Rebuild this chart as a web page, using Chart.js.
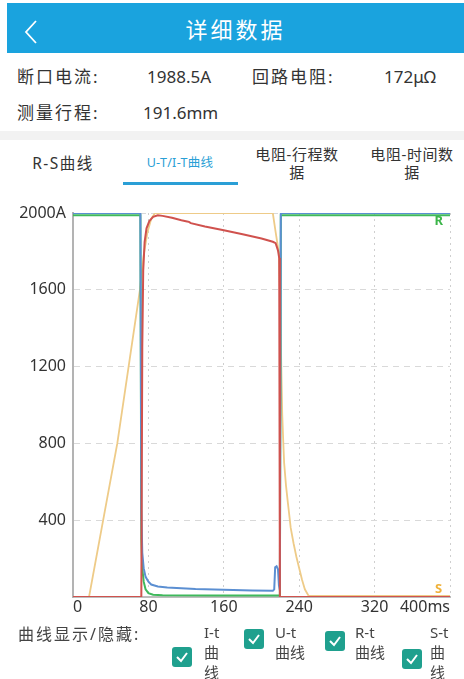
<!DOCTYPE html>
<html>
<head>
<meta charset="utf-8">
<script src="https://cdn.jsdelivr.net/npm/chart.js@4.4.1/dist/chart.umd.min.js"></script>
<style>
  html, body { margin: 0; padding: 0; background: #fff; }
  body { width: 464px; height: 679px; overflow: hidden; position: relative;
         font-family: "Noto Sans", "Noto Sans CJK SC", sans-serif; color: #333; }
  .abs { position: absolute; white-space: nowrap; }
  #header { position: absolute; left: 7px; top: 3px; width: 457px; height: 50px; background: #1aa3de; }
  #title { position: absolute; left: 0; right: 0; top: 0; height: 50px; line-height: 50px; text-align: center;
           color: #fff; font-size: 22px; letter-spacing: 3px; font-family: "Noto Sans CJK SC", sans-serif; }
  #back { position: absolute; left: 16px; top: 16px; }
  .info { font-size: 17px; line-height: 24px; color: #333; }
  .key { letter-spacing: 2px; }
  #band { position: absolute; left: 0; top: 131px; width: 464px; height: 9px; background: #f2f2f2; }
  .tab { position: absolute; text-align: center; font-size: 15px; line-height: 18px; color: #333; letter-spacing: 0.6px; }
  #tabActive { color: #2a9fd6; font-size: 12.5px; letter-spacing: 0.3px; }
  #tabRS { font-size: 15.5px; letter-spacing: 1.5px; }
  #underline { position: absolute; left: 123px; top: 182px; width: 115px; height: 3px; background: #2a9fd6; }
  #chartBox { position: absolute; left: 0; top: 195px; width: 464px; height: 430px; }
  .lbl { font-size: 16px; line-height: 20px; color: #444; letter-spacing: 2px; }
  .opt { position: absolute; font-size: 15px; line-height: 20px; color: #444; white-space: pre; }
  .cb { position: absolute; width: 20px; height: 20px; border-radius: 3px; background: #1fa08e; }
  .cb svg { position: absolute; left: 0; top: 0; }
</style>
</head>
<body>
<div id="header">
  <svg id="back" width="16" height="26" viewBox="0 0 16 26"><polyline points="13,2 3,13 13,24" fill="none" stroke="#fff" stroke-width="1.8"/></svg>
  <div id="title">详细数据</div>
</div>

<div class="abs info key" style="left:17px; top:65px;">断口电流:</div>
<div class="abs info" style="left:147px; top:65px;">1988.5A</div>
<div class="abs info key" style="left:252px; top:65px;">回路电阻:</div>
<div class="abs info" style="left:384px; top:65px;">172μΩ</div>
<div class="abs info key" style="left:17px; top:101px;">测量行程:</div>
<div class="abs info" style="left:143px; top:101px;">191.6mm</div>

<div id="band"></div>

<div class="tab" id="tabRS" style="left:13px; width:100px; top:154px;">R-S曲线</div>
<div class="tab" id="tabActive" style="left:120px; width:120px; top:154px;">U-T/I-T曲线</div>
<div class="tab" style="left:247px; width:100px; top:145px;">电阻-行程数<br>据</div>
<div class="tab" style="left:362px; width:100px; top:145px;">电阻-时间数<br>据</div>
<div id="underline"></div>

<div id="chartBox"><canvas id="chart"></canvas></div>

<div class="abs lbl" style="left:18px; top:624px;">曲线显示/隐藏:</div>

<div class="cb" style="left:172px; top:647px;"><svg width="20" height="20"><polyline points="5,10 9,14 15,6" fill="none" stroke="#fff" stroke-width="2"/></svg></div>
<div class="opt" style="left:204px; top:622px;">I-t
曲
线</div>
<div class="cb" style="left:244px; top:629px;"><svg width="20" height="20"><polyline points="5,10 9,14 15,6" fill="none" stroke="#fff" stroke-width="2"/></svg></div>
<div class="opt" style="left:275px; top:622px;">U-t
曲线</div>
<div class="cb" style="left:325px; top:631px;"><svg width="20" height="20"><polyline points="5,10 9,14 15,6" fill="none" stroke="#fff" stroke-width="2"/></svg></div>
<div class="opt" style="left:355px; top:622px;">R-t
曲线</div>
<div class="cb" style="left:402px; top:649px;"><svg width="20" height="20"><polyline points="5,10 9,14 15,6" fill="none" stroke="#fff" stroke-width="2"/></svg></div>
<div class="opt" style="left:430px; top:622px;">S-t
曲
线</div>

<script>
// Time axis in ms, values on the shared 0–2000 scale
const xTicks = [0, 80, 160, 240, 320, 400];
const yTicks = [0, 400, 800, 1200, 1600, 2000];

// I-t: breaking current
const iTime = [0, 72.5, 73.5, 74.5, 76, 78, 81, 85, 90, 95, 105, 115, 121, 123, 125, 140, 160, 180, 200, 212, 215, 217.5, 218.8, 219.5, 400];
const iAmps = [0, 0, 1300, 1700, 1850, 1920, 1958, 1980, 1988.5, 1985, 1975, 1962, 1956, 1954, 1947, 1930, 1910, 1889, 1867, 1850, 1843, 1805, 1765, 0, 0];

// U-t: contact voltage
const uTime = [0, 71.5, 72.5, 73.5, 75, 77, 80, 83, 90, 100, 130, 160, 190, 212, 213.5, 214.5, 216, 217.5, 218.5, 219.5, 220.5, 400];
const uVals = [2000, 2000, 450, 230, 150, 105, 80, 65, 55, 50, 42, 38, 34, 32, 40, 155, 160, 145, 60, 35, 2000, 2000];

// R-t: contact resistance
const rTime = [0, 71.5, 72.5, 73.5, 75, 77, 80, 85, 95, 150, 219.5, 220.5, 400];
const rVals = [1988, 1988, 300, 150, 80, 40, 20, 12, 9, 8, 8, 1988, 1988];

// S-t: travel
const sTime = [0, 17, 32, 47, 59, 71, 75, 79, 83, 87, 212, 215, 218.5, 220, 221, 222, 223, 224, 226, 228, 231, 234, 237, 240, 243, 246, 250, 400];
const sVals = [0, 0, 400, 800, 1200, 1600, 1780, 1900, 1970, 2000, 2000, 1900, 1790, 1500, 1200, 950, 820, 700, 580, 490, 360, 280, 210, 150, 90, 40, 6, 6];

const pts = (t, v) => t.map((x, i) => ({ x, y: v[i] }));

const endLabels = {
  id: 'endLabels',
  afterDatasetsDraw(chart) {
    const { ctx, scales: { x, y } } = chart;
    ctx.save();
    ctx.font = 'bold 13px "Noto Sans", sans-serif';
    ctx.textAlign = 'center';
    ctx.textBaseline = 'middle';
    ctx.fillStyle = '#3cb54a';
    ctx.fillText('R', x.getPixelForValue(388), y.getPixelForValue(1955));
    ctx.fillStyle = '#f0b23a';
    ctx.fillText('S', x.getPixelForValue(388), y.getPixelForValue(40));
    ctx.restore();
  }
};

new Chart(document.getElementById('chart'), {
  type: 'line',
  data: {
    datasets: [
      { label: 'I-t', data: pts(iTime, iAmps), borderColor: '#d0524e', borderWidth: 2 },
      { label: 'U-t', data: pts(uTime, uVals), borderColor: '#5b8fd2', borderWidth: 2 },
      { label: 'R-t', data: pts(rTime, rVals), borderColor: '#3fb95c', borderWidth: 2 },
      { label: 'S-t', data: pts(sTime, sVals), borderColor: '#eecb88', borderWidth: 1.8 }
    ]
  },
  options: {
    responsive: true,
    maintainAspectRatio: false,
    animation: false,
    events: [],
    elements: { point: { radius: 0 }, line: { tension: 0 } },
    layout: { padding: { top: 18, right: 14, bottom: 4, left: 0 } },
    plugins: { legend: { display: false }, tooltip: { enabled: false } },
    scales: {
      x: {
        type: 'linear', min: 0, max: 400,
        afterBuildTicks: s => { s.ticks = xTicks.map(v => ({ value: v })); },
        afterFit: s => { s.height = 24; },
        ticks: {
          align: 'inner', padding: 1, color: '#333',
          font: { size: 16, family: '"Noto Sans", sans-serif' },
          callback: v => v === 400 ? '400ms' : String(v)
        },
        grid: { color: '#cfcfcf', lineWidth: 1, drawTicks: false },
        border: { color: '#bdbdbd', width: 2, dash: [2, 4] }
      },
      y: {
        min: 0, max: 2000,
        afterBuildTicks: s => { s.ticks = yTicks.map(v => ({ value: v })); },
        afterFit: s => { s.width = 73; },
        ticks: {
          padding: 7, color: '#333',
          font: { size: 16, family: '"Noto Sans", sans-serif' },
          callback: v => v === 0 ? '' : (v === 2000 ? '2000A' : String(v))
        },
        grid: { color: '#d9d9d9', lineWidth: 1, drawTicks: false },
        border: { color: '#b3b3b3', width: 2, dash: [6, 5] }
      }
    }
  },
  plugins: [endLabels]
});
</script>
</body>
</html>
